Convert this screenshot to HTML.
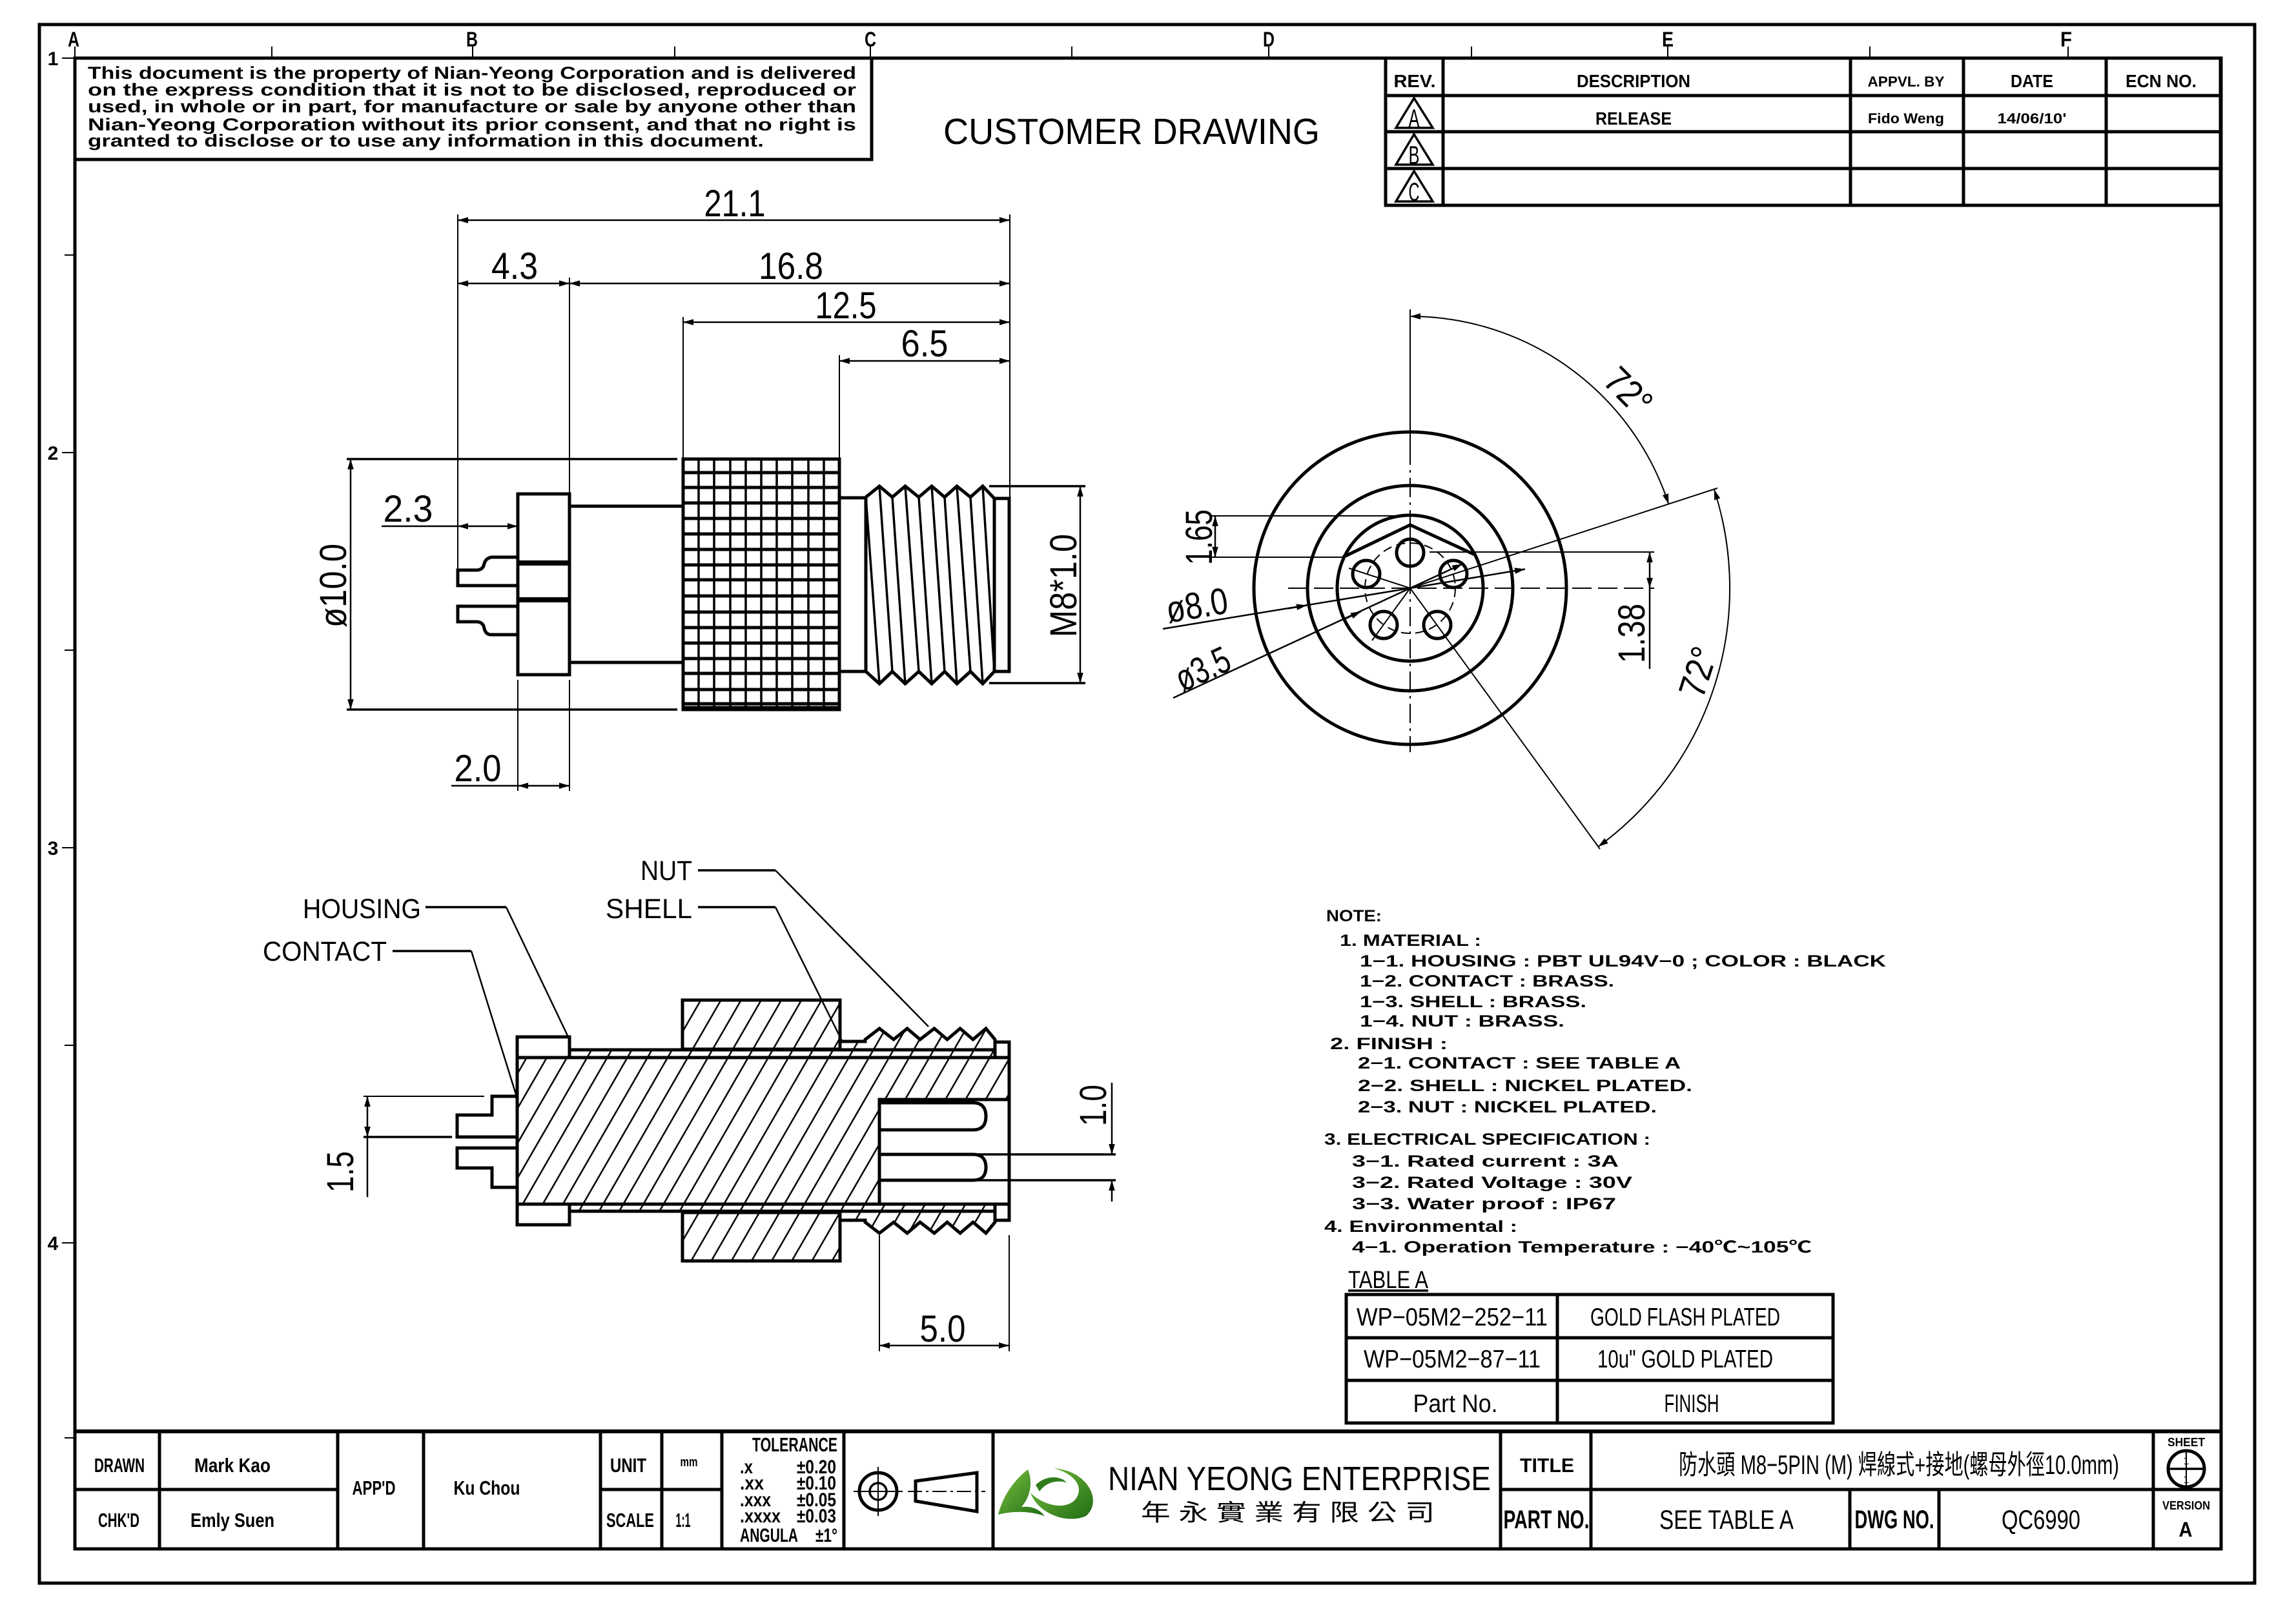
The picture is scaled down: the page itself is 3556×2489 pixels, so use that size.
<!DOCTYPE html>
<html><head><meta charset="utf-8"><style>
html,body{margin:0;padding:0;background:#fff}
svg{display:block}
text{font-family:"Liberation Sans","Noto Sans CJK TC",sans-serif;fill:#000}
.o{stroke:#000;stroke-width:5;fill:none}
.m{stroke:#000;stroke-width:3.5;fill:none}
.d{stroke:#000;stroke-width:2.5;fill:none}
.t{stroke:#000;stroke-width:2;fill:none}
.b{font-weight:bold}
</style></head><body>
<svg xmlns="http://www.w3.org/2000/svg" width="3556" height="2489" viewBox="0 0 3556 2489">
<defs>
<marker id="a" viewBox="0 0 10 10" refX="10" refY="5" markerWidth="16" markerHeight="16" markerUnits="userSpaceOnUse" orient="auto-start-reverse"><path d="M10,5 L0,2 L0,8 Z" fill="#000"/></marker>
<pattern id="h" patternUnits="userSpaceOnUse" width="27" height="27" patternTransform="rotate(30)"><line x1="13.5" y1="-2" x2="13.5" y2="29" stroke="#000" stroke-width="2.5"/></pattern>
<linearGradient id="g" x1="0" y1="0" x2="1" y2="1"><stop offset="0" stop-color="#7cc242"/><stop offset="1" stop-color="#1f6b12"/></linearGradient>
</defs>
<rect x="0" y="0" width="3556" height="2489" fill="#fff"/>

<!-- frames -->
<rect class="o" x="61" y="38" width="3431" height="2414"/>
<rect class="o" x="116" y="90" width="3324" height="2309"/>

<!-- top zone letters and ticks -->
<g class="t" stroke-width="3">
<line x1="421" y1="72" x2="421" y2="90"/><line x1="732" y1="72" x2="732" y2="90"/><line x1="1045" y1="72" x2="1045" y2="90"/>
<line x1="1348" y1="72" x2="1348" y2="90"/><line x1="1660" y1="72" x2="1660" y2="90"/><line x1="1965" y1="72" x2="1965" y2="90"/>
<line x1="2279" y1="72" x2="2279" y2="90"/><line x1="2583" y1="72" x2="2583" y2="90"/><line x1="2896" y1="72" x2="2896" y2="90"/>
<line x1="3203" y1="72" x2="3203" y2="90"/><line x1="116" y1="72" x2="116" y2="90"/>
</g>
<g class="b" font-size="32" text-anchor="middle">
<text x="114" y="72" textLength="18" lengthAdjust="spacingAndGlyphs">A</text>
<text x="731" y="72" textLength="18" lengthAdjust="spacingAndGlyphs">B</text>
<text x="1348" y="72" textLength="18" lengthAdjust="spacingAndGlyphs">C</text>
<text x="1965" y="72" textLength="18" lengthAdjust="spacingAndGlyphs">D</text>
<text x="2583" y="72" textLength="18" lengthAdjust="spacingAndGlyphs">E</text>
<text x="3200" y="72" textLength="18" lengthAdjust="spacingAndGlyphs">F</text>
</g>
<!-- left zone numbers -->
<g class="t" stroke-width="4">
<line x1="96" y1="90" x2="116" y2="90"/><line x1="100" y1="395" x2="116" y2="395"/><line x1="96" y1="701" x2="116" y2="701"/>
<line x1="100" y1="1007" x2="116" y2="1007"/><line x1="96" y1="1313" x2="116" y2="1313"/><line x1="100" y1="1619" x2="116" y2="1619"/>
<line x1="96" y1="1925" x2="116" y2="1925"/><line x1="100" y1="2227" x2="116" y2="2227"/>
</g>
<g class="b" font-size="30" text-anchor="middle">
<text x="82" y="101">1</text><text x="82" y="712">2</text><text x="82" y="1324">3</text><text x="82" y="1936">4</text>
</g>

<!-- notice box -->
<rect class="o" x="116" y="90" width="1234" height="157"/>
<g class="b" font-size="27">
<text x="136" y="122" textLength="1190" lengthAdjust="spacingAndGlyphs">This document is the property of Nian-Yeong Corporation and is delivered</text>
<text x="136" y="148" textLength="1190" lengthAdjust="spacingAndGlyphs">on  the  express condition that it is not to be disclosed, reproduced or</text>
<text x="136" y="174" textLength="1190" lengthAdjust="spacingAndGlyphs">used, in whole or in part, for manufacture or sale by anyone other than</text>
<text x="136" y="202" textLength="1190" lengthAdjust="spacingAndGlyphs">Nian-Yeong Corporation without  its prior consent, and that  no right  is</text>
<text x="136" y="227" textLength="1047" lengthAdjust="spacingAndGlyphs">granted to disclose or to use any information in this  document.</text>
</g>

<text x="1461" y="223" font-size="57" textLength="583" lengthAdjust="spacingAndGlyphs">CUSTOMER  DRAWING</text>

<!-- revision table -->
<g class="o">
<rect x="2146" y="90" width="1293" height="228"/>
<line x1="2235" y1="90" x2="2235" y2="318"/><line x1="2866" y1="90" x2="2866" y2="318"/>
<line x1="3041" y1="90" x2="3041" y2="318"/><line x1="3262" y1="90" x2="3262" y2="318"/>
<line x1="2146" y1="148" x2="3439" y2="148"/><line x1="2146" y1="204" x2="3439" y2="204"/><line x1="2146" y1="261" x2="3439" y2="261"/>
</g>
<g class="b" font-size="28" text-anchor="middle">
<text x="2191" y="135" textLength="65" lengthAdjust="spacingAndGlyphs">REV.</text>
<text x="2530" y="135" textLength="176" lengthAdjust="spacingAndGlyphs">DESCRIPTION</text>
<text x="2952" y="134" font-size="22" textLength="119" lengthAdjust="spacingAndGlyphs">APPVL. BY</text>
<text x="3147" y="135" textLength="66" lengthAdjust="spacingAndGlyphs">DATE</text>
<text x="3347" y="135" textLength="110" lengthAdjust="spacingAndGlyphs">ECN NO.</text>
<text x="2530" y="193" textLength="118" lengthAdjust="spacingAndGlyphs">RELEASE</text>
<text x="2952" y="191" font-size="22" textLength="118" lengthAdjust="spacingAndGlyphs">Fido Weng</text>
<text x="3147" y="191" font-size="22" textLength="107" lengthAdjust="spacingAndGlyphs">14/06/10'</text>
</g>
<g class="m" stroke-width="3">
<polygon points="2190,152 2162,198 2219,198"/>
<polygon points="2190,208 2162,255 2219,255"/>
<polygon points="2190,265 2162,312 2219,312"/>
</g>
<g font-size="40" text-anchor="middle">
<text x="2190" y="197" textLength="17" lengthAdjust="spacingAndGlyphs">A</text>
<text x="2190" y="254" textLength="17" lengthAdjust="spacingAndGlyphs">B</text>
<text x="2190" y="311" textLength="17" lengthAdjust="spacingAndGlyphs">C</text>
</g>

<!-- ================= FRONT VIEW ================= -->
<g>
<line class="t" x1="709" y1="332" x2="709" y2="883"/>
<line class="t" x1="882" y1="430" x2="882" y2="765"/>
<line class="t" x1="1058" y1="491" x2="1058" y2="711"/>
<line class="t" x1="1300" y1="550" x2="1300" y2="711"/>
<line class="t" x1="1564" y1="332" x2="1564" y2="772"/>
<line class="d" x1="709" y1="341" x2="1564" y2="341" marker-start="url(#a)" marker-end="url(#a)"/>
<line class="d" x1="709" y1="439" x2="882" y2="439" marker-start="url(#a)" marker-end="url(#a)"/>
<line class="d" x1="882" y1="439" x2="1564" y2="439" marker-start="url(#a)" marker-end="url(#a)"/>
<line class="d" x1="1058" y1="499" x2="1564" y2="499" marker-start="url(#a)" marker-end="url(#a)"/>
<line class="d" x1="1300" y1="559" x2="1564" y2="559" marker-start="url(#a)" marker-end="url(#a)"/>
<g font-size="58" text-anchor="middle">
<text x="1138" y="335" textLength="95" lengthAdjust="spacingAndGlyphs">21.1</text>
<text x="797" y="432" textLength="72" lengthAdjust="spacingAndGlyphs">4.3</text>
<text x="1225" y="432" textLength="100" lengthAdjust="spacingAndGlyphs">16.8</text>
<text x="1310" y="493" textLength="95" lengthAdjust="spacingAndGlyphs">12.5</text>
<text x="1432" y="552" textLength="73" lengthAdjust="spacingAndGlyphs">6.5</text>
<text x="632" y="808" textLength="77" lengthAdjust="spacingAndGlyphs">2.3</text>
<text x="740" y="1210" textLength="73" lengthAdjust="spacingAndGlyphs">2.0</text>
<text transform="translate(536,907) rotate(-90)" x="0" y="0" textLength="130" lengthAdjust="spacingAndGlyphs">ø10.0</text>
<text transform="translate(1667,907) rotate(-90)" x="0" y="0" textLength="160" lengthAdjust="spacingAndGlyphs">M8*1.0</text>
</g>
<!-- dia 10 -->
<line class="m" stroke-width="3" x1="537" y1="711" x2="1049" y2="711"/>
<line class="m" stroke-width="3" x1="537" y1="1099" x2="1049" y2="1099"/>
<line class="d" x1="543" y1="711" x2="543" y2="1099" marker-start="url(#a)" marker-end="url(#a)"/>
<!-- 2.3 -->
<line class="d" x1="591" y1="815" x2="709" y2="815"/>
<line class="d" x1="709" y1="815" x2="802" y2="815" marker-start="url(#a)" marker-end="url(#a)"/>
<!-- 2.0 -->
<line class="t" x1="802" y1="1053" x2="802" y2="1225"/>
<line class="t" x1="882" y1="1053" x2="882" y2="1225"/>
<line class="d" x1="699" y1="1217" x2="802" y2="1217"/>
<line class="d" x1="802" y1="1217" x2="882" y2="1217" marker-start="url(#a)" marker-end="url(#a)"/>
<!-- M8 -->
<line class="m" stroke-width="3" x1="1532" y1="753" x2="1681" y2="753"/>
<line class="m" stroke-width="3" x1="1532" y1="1058" x2="1681" y2="1058"/>
<line class="d" x1="1673" y1="753" x2="1673" y2="1058" marker-start="url(#a)" marker-end="url(#a)"/>
<!-- housing & pins -->
<rect class="o" x="802" y="765" width="80" height="280"/>
<rect x="802" y="868" width="80" height="8" fill="#000"/>
<rect x="802" y="925" width="80" height="8" fill="#000"/>
<path class="o" d="M802,863 L761,863 Q752,865 750,873 Q748,883 738,883 L709,883 L709,907 L802,907"/>
<path class="o" d="M802,939 L709,939 L709,963 L738,963 Q748,963 750,973 Q752,983 761,983 L802,983"/>
<line class="o" x1="882" y1="784" x2="1058" y2="784"/>
<line class="o" x1="882" y1="1026" x2="1058" y2="1026"/>
<!-- knurl -->
<rect class="o" x="1058" y="711" width="242" height="388"/>
<g class="m" stroke-width="3">
<line x1="1082" y1="711" x2="1082" y2="1099"/><line x1="1106" y1="711" x2="1106" y2="1099"/><line x1="1131" y1="711" x2="1131" y2="1099"/>
<line x1="1155" y1="711" x2="1155" y2="1099"/><line x1="1179" y1="711" x2="1179" y2="1099"/><line x1="1203" y1="711" x2="1203" y2="1099"/>
<line x1="1227" y1="711" x2="1227" y2="1099"/><line x1="1252" y1="711" x2="1252" y2="1099"/><line x1="1276" y1="711" x2="1276" y2="1099"/>
</g>
<g class="o">
<line x1="1058" y1="732" x2="1300" y2="732"/><line x1="1058" y1="755" x2="1300" y2="755"/><line x1="1058" y1="779" x2="1300" y2="779"/>
<line x1="1058" y1="803" x2="1300" y2="803"/><line x1="1058" y1="827" x2="1300" y2="827"/><line x1="1058" y1="851" x2="1300" y2="851"/>
<line x1="1058" y1="875" x2="1300" y2="875"/><line x1="1058" y1="898" x2="1300" y2="898"/><line x1="1058" y1="923" x2="1300" y2="923"/>
<line x1="1058" y1="948" x2="1300" y2="948"/><line x1="1058" y1="972" x2="1300" y2="972"/><line x1="1058" y1="996" x2="1300" y2="996"/>
<line x1="1058" y1="1020" x2="1300" y2="1020"/><line x1="1058" y1="1043" x2="1300" y2="1043"/><line x1="1058" y1="1068" x2="1300" y2="1068"/>
<line x1="1058" y1="1090" x2="1300" y2="1090"/><line x1="1058" y1="1097" x2="1300" y2="1097" stroke-width="7"/>
</g>
<!-- thread -->
<line class="o" x1="1300" y1="771" x2="1341" y2="771"/>
<line class="o" x1="1300" y1="1040" x2="1341" y2="1040"/>
<path class="o" stroke-width="4" d="M1341,770 L1362,753 L1382,770 L1402,753 L1423,770 L1443,753 L1463,770 L1482,753 L1503,770 L1522,753 L1540,772"/>
<path class="o" stroke-width="4" d="M1341,1040 L1362,1059 L1382,1040 L1402,1059 L1423,1040 L1443,1059 L1463,1040 L1482,1059 L1503,1040 L1522,1059 L1540,1040"/>
<line class="o" x1="1341" y1="770" x2="1341" y2="1040"/>
<g class="m" stroke-width="3">
<line x1="1341" y1="770" x2="1362" y2="1059"/><line x1="1362" y1="753" x2="1382" y2="1040"/><line x1="1382" y1="770" x2="1402" y2="1059"/>
<line x1="1402" y1="753" x2="1423" y2="1040"/><line x1="1423" y1="770" x2="1443" y2="1059"/><line x1="1443" y1="753" x2="1463" y2="1040"/>
<line x1="1463" y1="770" x2="1482" y2="1059"/><line x1="1482" y1="753" x2="1503" y2="1040"/><line x1="1503" y1="770" x2="1522" y2="1059"/>
<line x1="1522" y1="753" x2="1540" y2="1040"/>
</g>
<rect class="o" x="1540" y="772" width="23" height="268"/>
</g>

<!-- ================= END VIEW ================= -->
<g>
<circle class="o" cx="2184" cy="911" r="242"/>
<circle class="o" cx="2184" cy="911" r="159"/>
<circle class="o" cx="2184" cy="911" r="113"/>
<polyline class="o" points="2080,863 2184,813 2286,860"/>
<circle class="o" cx="2184" cy="856" r="21"/>
<circle class="o" cx="2251" cy="889" r="21"/>
<circle class="o" cx="2116" cy="889" r="21"/>
<circle class="o" cx="2143" cy="968" r="21"/>
<circle class="o" cx="2226" cy="968" r="21"/>
<circle class="t" cx="2184" cy="911" r="70" stroke-dasharray="14 8"/>
<line class="t" x1="1995" y1="911" x2="2562" y2="911" stroke-dasharray="30 10"/>
<line class="t" x1="2184" y1="479" x2="2184" y2="690"/>
<line class="t" x1="2184" y1="690" x2="2184" y2="1165" stroke-dasharray="30 8 4 8"/>
<line class="t" x1="2184" y1="911" x2="2089" y2="880"/>
<line class="t" x1="2184" y1="911" x2="2125" y2="992"/>
<line class="t" x1="2184" y1="911" x2="2184" y2="820"/>
<!-- 72 deg -->
<path class="t" d="M2184,490 A421,421 0 0,1 2584.4,780.9" marker-start="url(#a)" marker-end="url(#a)"/>
<line class="t" x1="2184" y1="911" x2="2660" y2="756"/>
<path class="t" d="M2654.8,758 A495,495 0 0,1 2475,1311.5" marker-start="url(#a)" marker-end="url(#a)"/>
<line class="t" x1="2184" y1="911" x2="2478" y2="1315"/>
<!-- 1.65 -->
<line class="t" x1="1877" y1="799" x2="2184" y2="799"/>
<line class="t" x1="1877" y1="863" x2="2080" y2="863"/>
<line class="d" x1="1882" y1="799" x2="1882" y2="863" marker-start="url(#a)" marker-end="url(#a)"/>
<!-- 1.38 -->
<line class="t" x1="2214" y1="855" x2="2562" y2="855"/>
<line class="d" x1="2555" y1="855" x2="2555" y2="911" marker-start="url(#a)" marker-end="url(#a)"/>
<line class="d" x1="2555" y1="911" x2="2555" y2="1036"/>
<!-- dia leaders -->
<line class="d" x1="1801" y1="974" x2="2184" y2="911"/>
<line class="d" x1="1995" y1="942.5" x2="2024" y2="937.5" marker-end="url(#a)"/>
<line class="d" x1="2184" y1="911" x2="2362" y2="881.5" marker-end="url(#a)"/>
<line class="d" x1="1817" y1="1081" x2="2184" y2="911"/>
<line class="d" x1="2080" y1="960" x2="2108" y2="947" marker-end="url(#a)"/>
<line class="d" x1="2184" y1="911" x2="2265" y2="873.5" marker-end="url(#a)"/>
<g font-size="58" text-anchor="middle">
<text transform="translate(2508,620) rotate(45)" textLength="78" lengthAdjust="spacingAndGlyphs">72°</text>
<text transform="translate(2649,1047) rotate(-72)" textLength="78" lengthAdjust="spacingAndGlyphs">72°</text>
<text transform="translate(1877,832) rotate(-90)" textLength="86" lengthAdjust="spacingAndGlyphs">1.65</text>
<text transform="translate(2547,981) rotate(-90)" textLength="92" lengthAdjust="spacingAndGlyphs">1.38</text>
<text transform="translate(1857,957) rotate(-9.4)" textLength="96" lengthAdjust="spacingAndGlyphs">ø8.0</text>
<text transform="translate(1871,1054) rotate(-24.8)" textLength="87" lengthAdjust="spacingAndGlyphs">ø3.5</text>
</g>
</g>

<!-- ================= SECTION VIEW ================= -->
<g>
<!-- labels -->
<g font-size="43">
<text x="469" y="1422" textLength="183" lengthAdjust="spacingAndGlyphs">HOUSING</text>
<text x="407" y="1488" textLength="192" lengthAdjust="spacingAndGlyphs">CONTACT</text>
<text x="992" y="1363" textLength="80" lengthAdjust="spacingAndGlyphs">NUT</text>
<text x="938" y="1422" textLength="134" lengthAdjust="spacingAndGlyphs">SHELL</text>
</g>
<g class="m"><line x1="659" y1="1405" x2="784" y2="1405"/><line x1="608" y1="1473" x2="730" y2="1473"/><line x1="1081" y1="1348" x2="1201" y2="1348"/><line x1="1081" y1="1405" x2="1201" y2="1405"/></g>
<g class="d"><line x1="784" y1="1405" x2="880" y2="1606"/><line x1="730" y1="1473" x2="800" y2="1698"/><line x1="1201" y1="1348" x2="1438" y2="1590"/><line x1="1201" y1="1405" x2="1304" y2="1612"/></g>
<!-- housing body -->
<path d="M801,1638 L1563,1638 L1563,1703 L1362,1703 L1362,1865 L801,1865 Z" class="o" style="fill:url(#h)"/>
<!-- top shell -->
<path d="M882,1626 L1301,1626 L1301,1613 L1340,1613 L1340,1610 L1362,1593 L1384,1610 L1405,1593 L1425,1610 L1447,1593 L1467,1610 L1487,1593 L1507,1610 L1527,1593 L1541,1610 L1541,1638 L882,1638 Z" class="o" stroke-width="4" style="fill:url(#h)"/>
<line class="o" x1="882" y1="1626" x2="1541" y2="1626"/>
<rect class="o" x="1541" y="1614" width="22" height="24" style="fill:#fff"/>
<!-- bottom shell -->
<path d="M882,1865 L1541,1865 L1541,1893 L1527,1910 L1507,1893 L1487,1910 L1467,1893 L1447,1910 L1425,1893 L1405,1910 L1384,1893 L1362,1910 L1340,1893 L1340,1890 L1301,1890 L1301,1876 L882,1876 Z" class="o" stroke-width="4" style="fill:url(#h)"/>
<line class="o" x1="882" y1="1876" x2="1541" y2="1876"/>
<line class="o" x1="882" y1="1865" x2="1563" y2="1865"/>
<rect class="o" x="1541" y="1865" width="22" height="25" style="fill:#fff"/>
<!-- nuts -->
<rect class="o" x="1057" y="1549" width="244" height="76" style="fill:url(#h)"/>
<rect class="o" x="1057" y="1878" width="244" height="75" style="fill:url(#h)"/>
<!-- flanges -->
<rect class="o" x="801" y="1606" width="81" height="32" style="fill:#fff"/>
<rect class="o" x="801" y="1865" width="81" height="32" style="fill:#fff"/>
<line class="o" x1="801" y1="1606" x2="801" y2="1897"/>
<line class="o" x1="1563" y1="1638" x2="1563" y2="1865"/>
<line class="o" x1="1362" y1="1703" x2="1362" y2="1865"/>
<!-- left pins -->
<path class="o" d="M801,1698 L762,1698 L762,1727 L708,1727 L708,1761 L801,1761"/>
<path class="o" d="M801,1778 L708,1778 L708,1809 L762,1809 L762,1839 L801,1839"/>
<!-- cavity pins -->
<path class="o" d="M1362,1708 L1507,1708 Q1527,1708 1527,1729 Q1527,1750 1507,1750 L1362,1750"/>
<path class="o" d="M1362,1788 L1507,1788 Q1527,1788 1527,1808 Q1527,1828 1507,1828 L1362,1828"/>
<!-- 1.5 dim -->
<line class="t" x1="563" y1="1698" x2="750" y2="1698"/>
<line class="m" x1="563" y1="1761" x2="700" y2="1761"/>
<line class="d" x1="569" y1="1698" x2="569" y2="1761" marker-start="url(#a)" marker-end="url(#a)"/>
<line class="d" x1="569" y1="1761" x2="569" y2="1854"/>
<!-- 1.0 dim -->
<line class="m" x1="1507" y1="1788" x2="1728" y2="1788"/>
<line class="m" x1="1507" y1="1828" x2="1728" y2="1828"/>
<line class="d" x1="1722" y1="1677" x2="1722" y2="1788" marker-end="url(#a)"/>
<line class="d" x1="1722" y1="1861" x2="1722" y2="1828" marker-end="url(#a)"/>
<!-- 5.0 dim -->
<line class="t" x1="1362" y1="1913" x2="1362" y2="2093"/>
<line class="t" x1="1563" y1="1913" x2="1563" y2="2093"/>
<line class="d" x1="1362" y1="2084" x2="1563" y2="2084" marker-start="url(#a)" marker-end="url(#a)"/>
<g font-size="58" text-anchor="middle">
<text x="1460" y="2078" textLength="71" lengthAdjust="spacingAndGlyphs">5.0</text>
<text transform="translate(547,1815) rotate(-90)" textLength="64" lengthAdjust="spacingAndGlyphs">1.5</text>
<text transform="translate(1713,1712) rotate(-90)" textLength="64" lengthAdjust="spacingAndGlyphs">1.0</text>
</g>
</g>

<!-- ================= NOTES ================= -->
<g class="b" font-size="25">
<text x="2054" y="1427" textLength="86" lengthAdjust="spacingAndGlyphs">NOTE:</text>
<text x="2075" y="1465" textLength="219" lengthAdjust="spacingAndGlyphs">1.  MATERIAL  :</text>
<text x="2106" y="1497" textLength="815" lengthAdjust="spacingAndGlyphs">1−1.  HOUSING  :  PBT  UL94V−0  ;  COLOR  :  BLACK</text>
<text x="2106" y="1528" textLength="394" lengthAdjust="spacingAndGlyphs">1−2.  CONTACT  :  BRASS.</text>
<text x="2106" y="1560" textLength="351" lengthAdjust="spacingAndGlyphs">1−3.  SHELL  :  BRASS.</text>
<text x="2106" y="1590" textLength="317" lengthAdjust="spacingAndGlyphs">1−4.  NUT  :  BRASS.</text>
<text x="2060" y="1625" textLength="182" lengthAdjust="spacingAndGlyphs">2.  FINISH  :</text>
<text x="2103" y="1655" textLength="500" lengthAdjust="spacingAndGlyphs">2−1.  CONTACT  :  SEE  TABLE  A</text>
<text x="2103" y="1690" textLength="518" lengthAdjust="spacingAndGlyphs">2−2.  SHELL  :   NICKEL  PLATED.</text>
<text x="2103" y="1723" textLength="463" lengthAdjust="spacingAndGlyphs">2−3.  NUT  :  NICKEL  PLATED.</text>
<text x="2051" y="1773" textLength="505" lengthAdjust="spacingAndGlyphs">3.  ELECTRICAL  SPECIFICATION  :</text>
<text x="2094" y="1807" textLength="413" lengthAdjust="spacingAndGlyphs">3−1.  Rated  current  :  3A</text>
<text x="2094" y="1840" textLength="434" lengthAdjust="spacingAndGlyphs">3−2.  Rated  Voltage  :  30V</text>
<text x="2094" y="1873" textLength="409" lengthAdjust="spacingAndGlyphs">3−3.  Water  proof  :  IP67</text>
<text x="2051" y="1908" textLength="299" lengthAdjust="spacingAndGlyphs">4.  Environmental  :</text>
<text x="2094" y="1940" textLength="712" lengthAdjust="spacingAndGlyphs">4−1.  Operation  Temperature  :  −40℃~105℃</text>
</g>
<!-- table A -->
<text x="2088" y="1995" font-size="38" textLength="124" lengthAdjust="spacingAndGlyphs">TABLE A</text>
<line class="m" x1="2088" y1="1999" x2="2212" y2="1999"/>
<g class="o">
<rect x="2085" y="2005" width="754" height="199"/>
<line x1="2412" y1="2005" x2="2412" y2="2204"/>
<line x1="2085" y1="2072" x2="2839" y2="2072"/>
<line x1="2085" y1="2138" x2="2839" y2="2138"/>
</g>
<g font-size="39" text-anchor="middle">
<text x="2249" y="2053" textLength="296" lengthAdjust="spacingAndGlyphs">WP−05M2−252−11</text>
<text x="2610" y="2053" textLength="294" lengthAdjust="spacingAndGlyphs">GOLD  FLASH  PLATED</text>
<text x="2249" y="2118" textLength="274" lengthAdjust="spacingAndGlyphs">WP−05M2−87−11</text>
<text x="2610" y="2118" textLength="272" lengthAdjust="spacingAndGlyphs">10u"  GOLD  PLATED</text>
<text x="2254" y="2187" textLength="131" lengthAdjust="spacingAndGlyphs">Part  No.</text>
<text x="2620" y="2187" textLength="85" lengthAdjust="spacingAndGlyphs">FINISH</text>
</g>

<!-- ================= TITLE BLOCK ================= -->
<g class="o">
<line x1="116" y1="2217" x2="3440" y2="2217" stroke-width="6"/>
<line x1="247" y1="2217" x2="247" y2="2399"/>
<line x1="523" y1="2217" x2="523" y2="2399"/>
<line x1="656" y1="2217" x2="656" y2="2399"/>
<line x1="930" y1="2217" x2="930" y2="2399"/>
<line x1="1025" y1="2217" x2="1025" y2="2399"/>
<line x1="1118" y1="2217" x2="1118" y2="2399"/>
<line x1="1307" y1="2217" x2="1307" y2="2399"/>
<line x1="1538" y1="2217" x2="1538" y2="2399"/>
<line x1="2324" y1="2217" x2="2324" y2="2399"/>
<line x1="2464" y1="2217" x2="2464" y2="2399"/>
<line x1="2865" y1="2307" x2="2865" y2="2399"/>
<line x1="3003" y1="2307" x2="3003" y2="2399"/>
<line x1="3335" y1="2217" x2="3335" y2="2399"/>
<line x1="116" y1="2307" x2="523" y2="2307"/>
<line x1="930" y1="2307" x2="1118" y2="2307"/>
<line x1="2324" y1="2307" x2="3440" y2="2307"/>
</g>
<g class="b" font-size="31" text-anchor="middle">
<text x="185" y="2280" textLength="78" lengthAdjust="spacingAndGlyphs">DRAWN</text>
<text x="360" y="2280" textLength="118" lengthAdjust="spacingAndGlyphs">Mark Kao</text>
<text x="184" y="2365" textLength="64" lengthAdjust="spacingAndGlyphs">CHK'D</text>
<text x="360" y="2365" textLength="130" lengthAdjust="spacingAndGlyphs">Emly Suen</text>
<text x="579" y="2315" textLength="67" lengthAdjust="spacingAndGlyphs">APP'D</text>
<text x="754" y="2315" textLength="103" lengthAdjust="spacingAndGlyphs">Ku Chou</text>
<text x="973" y="2280" textLength="56" lengthAdjust="spacingAndGlyphs">UNIT</text>
<text x="1067" y="2271" font-size="20" textLength="27" lengthAdjust="spacingAndGlyphs">mm</text>
<text x="976" y="2365" textLength="74" lengthAdjust="spacingAndGlyphs">SCALE</text>
<text x="1058" y="2365" textLength="23" lengthAdjust="spacingAndGlyphs">1:1</text>
<text x="1231" y="2248" textLength="132" lengthAdjust="spacingAndGlyphs">TOLERANCE</text>
</g>
<g class="b" font-size="30">
<text x="1146" y="2282" textLength="20" lengthAdjust="spacingAndGlyphs">.x</text>
<text x="1234" y="2282" textLength="61" lengthAdjust="spacingAndGlyphs">±0.20</text>
<text x="1146" y="2307" textLength="37" lengthAdjust="spacingAndGlyphs">.xx</text>
<text x="1234" y="2307" textLength="61" lengthAdjust="spacingAndGlyphs">±0.10</text>
<text x="1146" y="2333" textLength="48" lengthAdjust="spacingAndGlyphs">.xxx</text>
<text x="1234" y="2333" textLength="61" lengthAdjust="spacingAndGlyphs">±0.05</text>
<text x="1146" y="2358" textLength="63" lengthAdjust="spacingAndGlyphs">.xxxx</text>
<text x="1234" y="2358" textLength="61" lengthAdjust="spacingAndGlyphs">±0.03</text>
<text x="1146" y="2388" textLength="90" lengthAdjust="spacingAndGlyphs">ANGULA</text>
<text x="1263" y="2388" textLength="34" lengthAdjust="spacingAndGlyphs">±1°</text>
</g>
<!-- projection symbol -->
<circle class="o" cx="1360" cy="2310" r="29"/>
<circle class="m" cx="1360" cy="2310" r="13"/>
<line class="t" x1="1360" y1="2272" x2="1360" y2="2348"/>
<line class="t" x1="1322" y1="2310" x2="1398" y2="2310"/>
<polygon class="o" points="1418,2294 1513,2281 1513,2341 1418,2325"/>
<line class="t" x1="1406" y1="2310" x2="1526" y2="2310" stroke-dasharray="22 6 4 6"/>
<!-- logo -->
<path fill="url(#g)" d="M1546,2346 C1552,2322 1566,2296 1592,2276 C1600,2296 1596,2318 1582,2334 C1598,2332 1610,2338 1618,2348 C1594,2340 1568,2340 1546,2346 Z"/>
<path fill="url(#g)" d="M1632,2274 C1686,2278 1708,2326 1682,2348 C1650,2362 1606,2342 1596,2312 C1614,2330 1646,2340 1664,2324 C1680,2306 1668,2284 1632,2274 Z"/>
<path fill="#2f7d1c" d="M1604,2300 C1618,2286 1640,2284 1652,2296 C1636,2292 1620,2296 1610,2310 Z"/>
<text x="1716" y="2308" font-size="52" textLength="593" lengthAdjust="spacingAndGlyphs">NIAN YEONG ENTERPRISE</text>
<text x="1767" y="2355" font-size="36" textLength="455" lengthAdjust="spacingAndGlyphs">年 永 實 業 有 限 公 司</text>
<!-- right part -->
<g class="b" text-anchor="middle">
<text x="2396" y="2280" font-size="31" textLength="84" lengthAdjust="spacingAndGlyphs">TITLE</text>
<text x="2395" y="2367" font-size="40" textLength="133" lengthAdjust="spacingAndGlyphs">PART NO.</text>
<text x="2934" y="2367" font-size="40" textLength="123" lengthAdjust="spacingAndGlyphs">DWG NO.</text>
<text x="3386" y="2240" font-size="18" textLength="58" lengthAdjust="spacingAndGlyphs">SHEET</text>
<text x="3386" y="2338" font-size="18" textLength="74" lengthAdjust="spacingAndGlyphs">VERSION</text>
<text x="3385" y="2380" font-size="32" textLength="21" lengthAdjust="spacingAndGlyphs">A</text>
</g>
<g text-anchor="middle">
<text x="2941" y="2283" font-size="42" textLength="682" lengthAdjust="spacingAndGlyphs">防水頭  M8−5PIN  (M)  焊線式+接地(螺母外徑10.0mm)</text>
<text x="2674" y="2368" font-size="42" textLength="208" lengthAdjust="spacingAndGlyphs">SEE  TABLE  A</text>
<text x="3161" y="2368" font-size="42" textLength="122" lengthAdjust="spacingAndGlyphs">QC6990</text>
</g>
<circle class="o" cx="3386" cy="2275" r="28" stroke-width="4"/>
<line class="m" x1="3358" y1="2275" x2="3414" y2="2275"/>
<line class="t" x1="3386" y1="2247" x2="3386" y2="2303"/>
<text x="3386" y="2268" font-size="16" text-anchor="middle">1</text>
<text x="3386" y="2297" font-size="16" text-anchor="middle">1</text>
</svg>
</body></html>
